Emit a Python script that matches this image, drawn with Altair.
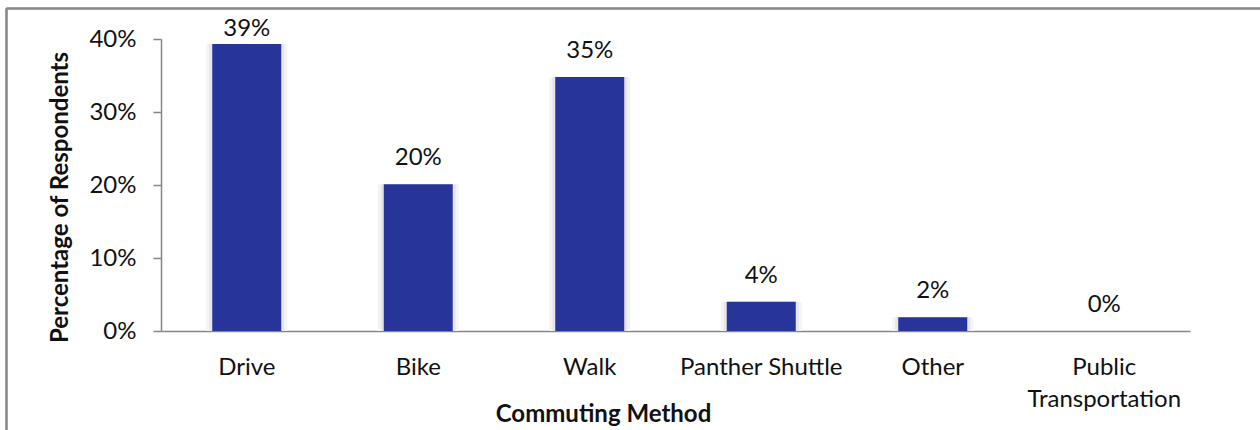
import altair as alt
import pandas as pd

# Survey results: share of respondents by commuting method
methods = ["Drive", "Bike", "Walk", "Panther Shuttle", "Other", "Public Transportation"]
shares = [0.393, 0.201, 0.348, 0.040, 0.019, 0.0]

y_ticks = [0.0, 0.1, 0.2, 0.3, 0.4]

df = pd.DataFrame({"method": methods, "share": shares})

FONT = "Lato"
FS = 24
BAR = "#27359a"
AXIS_GREY = "#868686"
W, H = 1029, 292

x_enc = alt.X(
    "method:N",
    sort=methods,
    scale=alt.Scale(paddingInner=0.6, paddingOuter=0.3),
    axis=alt.Axis(
        title="Commuting Method",
        labelAngle=0,
        ticks=False,
        labelPadding=24,
        labelExpr="length(datum.label) > 16 ? split(datum.label, ' ') : datum.label",
        labelLineHeight=32,
        titleX=442,
        titleY=83,
        titleBaseline="middle",
        titleAnchor="start",
        titleAlign="center",
    ),
)

y_scale = alt.Scale(domain=[0, 0.4], nice=False)

base = alt.Chart(df)

# soft drop-shadow behind each bar
shadow_outer = base.mark_bar(size=81, color="#f4f4f4").encode(
    x=x_enc, y=alt.Y("share:Q", scale=y_scale)
)
shadow_inner = base.mark_bar(size=75, color="#e6e6e6").encode(
    x=x_enc, y=alt.Y("share:Q", scale=y_scale)
)

bars = base.mark_bar(size=69, color=BAR).encode(
    x=x_enc,
    y=alt.Y(
        "share:Q",
        scale=y_scale,
        axis=alt.Axis(
            title="Percentage of Respondents",
            values=y_ticks,
            format=".0%",
            grid=False,
            tickSize=8,
            labelPadding=17,
            titleAngle=270,
            titleX=-101,
            titleY=158,
            titleBaseline="middle",
            titleAlign="center",
            titleAnchor="start",
        ),
    ),
)

# value labels sit above each bar, held just under the top edge for tall bars
labels = (
    base.transform_calculate(label_y="min(datum.share + 0.0356, 0.414)")
    .mark_text(font=FONT, fontSize=FS, color="#111111", baseline="middle")
    .encode(
        x=alt.X("method:N", sort=methods),
        y=alt.Y("label_y:Q", scale=y_scale),
        text=alt.Text("share:Q", format=".0%"),
    )
)

# outer frame of the chart
frame_top = alt.Chart(df).mark_rule(color="#8a8a8a", strokeWidth=1.5).encode(
    x=alt.value(-154.5), x2=alt.value(1260), y=alt.value(-30.5)
)
frame_left = alt.Chart(df).mark_rule(color="#8a8a8a", strokeWidth=1.5).encode(
    x=alt.value(-154.5), y=alt.value(-30.5), y2=alt.value(400)
)

chart = (
    alt.layer(shadow_outer, shadow_inner, bars, labels, frame_top, frame_left)
    .properties(
        width=W,
        height=H,
        autosize=alt.AutoSizeParams(type="none"),
        padding={"left": 161, "top": 39, "right": 70, "bottom": 99},
        background="white",
    )
    .configure_view(stroke=None)
    .configure_axis(
        labelFont=FONT,
        labelFontSize=FS,
        labelColor="#111111",
        titleFont=FONT,
        titleFontSize=FS,
        titleFontWeight="bold",
        titleColor="#111111",
        domainColor=AXIS_GREY,
        domainWidth=1.5,
        tickColor=AXIS_GREY,
        tickWidth=1.5,
    )
)

chart.save("out.html", embed_options={"renderer": "svg", "actions": False})
